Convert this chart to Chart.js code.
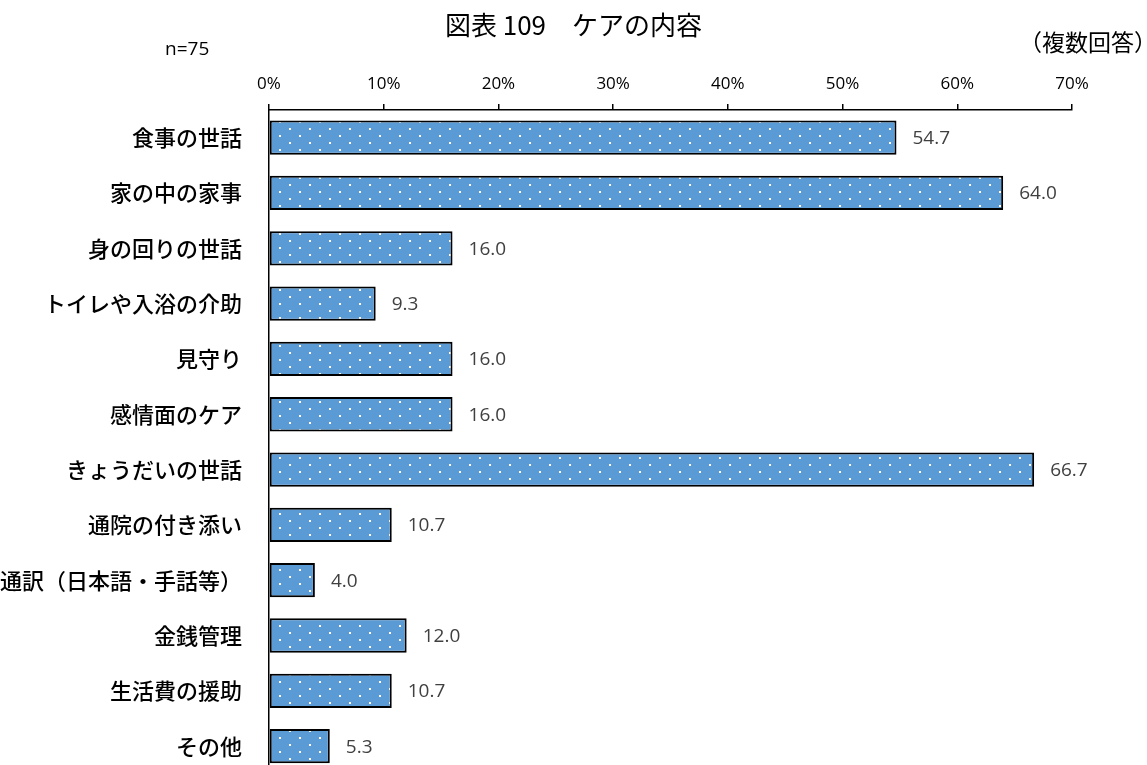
<!DOCTYPE html>
<html lang="ja">
<head>
    <meta charset="UTF-8">
    <title>図表 109 ケアの内容</title>
    <script src="https://cdn.jsdelivr.net/npm/chart.js"></script>
    <style>
        html, body {
            margin: 0;
            padding: 0;
            width: 1147px;
            height: 765px;
            overflow: hidden;
            background: #fff;
            font-family: "Noto Sans CJK JP", sans-serif;
        }
        .wrap {
            position: relative;
            width: 1147px;
            height: 806px;
        }
        .title {
            position: absolute;
            top: 5px;
            left: 0;
            width: 1147px;
            text-align: center;
            font-size: 26px;
            color: #000;
            white-space: pre;
        }
        .note-n {
            position: absolute;
            left: 165px;
            top: 35px;
            font-family: "Open Sans", sans-serif;
            font-size: 19px;
            color: #000;
        }
        .note-multi {
            position: absolute;
            right: -10px;
            top: 24px;
            font-size: 23px;
            color: #000;
        }
    </style>
</head>
<body>
<div class="wrap">
    <canvas id="careChart" width="1147" height="806"></canvas>
    <div class="title">図表 109　ケアの内容</div>
    <div class="note-n">n=75</div>
    <div class="note-multi">（複数回答）</div>
</div>
<script>
    // data
    const categories = ['食事の世話', '家の中の家事', '身の回りの世話', 'トイレや入浴の介助', '見守り', '感情面のケア',
        'きょうだいの世話', '通院の付き添い', '通訳（日本語・手話等）', '金銭管理', '生活費の援助', 'その他'];
    const values = [54.7, 64.0, 16.0, 9.3, 16.0, 16.0, 66.7, 10.7, 4.0, 12.0, 10.7, 5.3];
    const tickValues = [0, 10, 20, 30, 40, 50, 60, 70];

    // dotted fill like the excel pattern
    function dotPattern() {
        const tile = document.createElement('canvas');
        tile.width = 20;
        tile.height = 14;
        const t = tile.getContext('2d');
        t.fillStyle = '#5b9bd5';
        t.fillRect(0, 0, 20, 14);
        t.fillStyle = '#ffffff';
        t.fillRect(9, 2, 2, 2);
        t.fillRect(19, 9, 1, 2);
        t.fillRect(0, 9, 1, 2);
        return t.createPattern(tile, 'repeat');
    }

    const valueLabels = {
        id: 'valueLabels',
        afterDatasetsDraw(chart) {
            const ctx = chart.ctx;
            const meta = chart.getDatasetMeta(0);
            ctx.save();
            ctx.font = '19px "Open Sans", sans-serif';
            ctx.fillStyle = '#404040';
            ctx.textAlign = 'left';
            ctx.textBaseline = 'middle';
            meta.data.forEach((bar, i) => {
                ctx.fillText(values[i].toFixed(1), bar.x + 16, bar.y + 1);
            });
            ctx.restore();
        }
    };

    const ctx = document.getElementById('careChart').getContext('2d');
    const careChart = new Chart(ctx, {
        type: 'bar',
        data: {
            labels: categories,
            datasets: [{
                data: values,
                backgroundColor: dotPattern(),
                borderColor: '#000',
                borderWidth: 2,
                borderSkipped: false,
                categoryPercentage: 1,
                barPercentage: 0.62
            }]
        },
        options: {
            indexAxis: 'y',
            responsive: false,
            animation: false,
            devicePixelRatio: 1,
            layout: {
                padding: { top: 70, right: 75, bottom: 1, left: 0 }
            },
            plugins: {
                legend: { display: false },
                tooltip: { enabled: false }
            },
            scales: {
                x: {
                    position: 'top',
                    min: 0,
                    max: 70,
                    afterBuildTicks(scale) {
                        scale.ticks = tickValues.map(v => ({ value: v }));
                    },
                    afterFit(scale) {
                        scale.height = 40;
                    },
                    ticks: {
                        padding: 10,
                        color: '#000',
                        font: { family: '"Open Sans", sans-serif', size: 17 },
                        callback: v => v + '%'
                    },
                    grid: {
                        drawOnChartArea: false,
                        drawTicks: true,
                        tickLength: 6,
                        color: '#000',
                        lineWidth: 1.5
                    },
                    border: { color: '#000', width: 1.5 }
                },
                y: {
                    afterFit(scale) {
                        scale.width = 269;
                    },
                    ticks: {
                        padding: 19,
                        color: '#000',
                        font: { family: '"Noto Sans CJK JP", sans-serif', size: 22, weight: 500 }
                    },
                    grid: { display: false },
                    border: { color: '#000', width: 1.5 }
                }
            }
        },
        plugins: [valueLabels]
    });
</script>
</body>
</html>
